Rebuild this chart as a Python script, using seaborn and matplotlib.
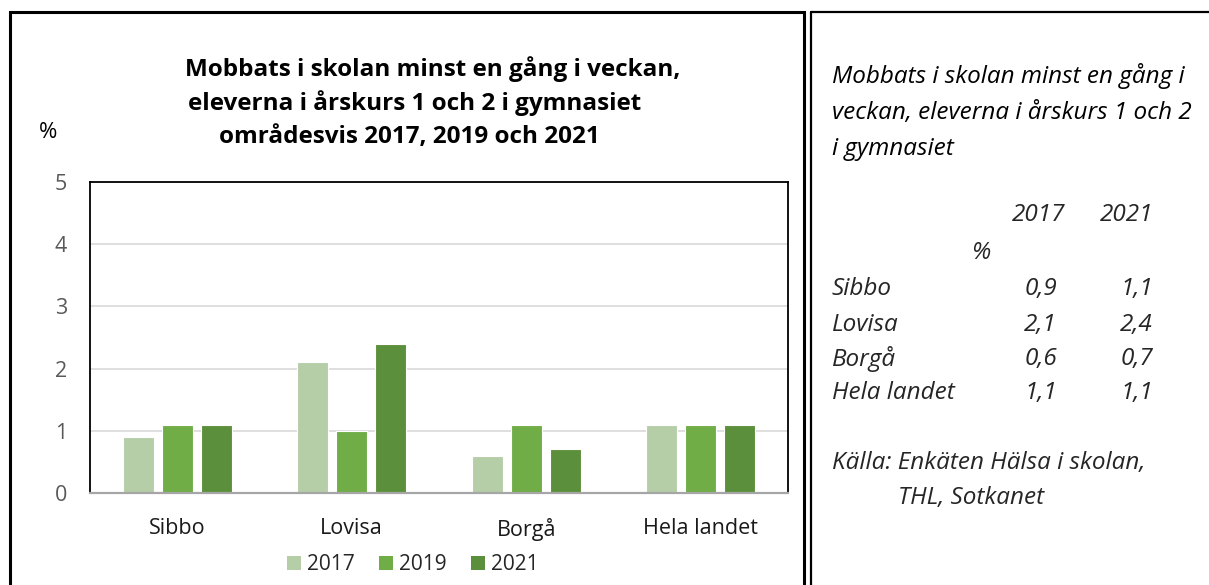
import matplotlib
matplotlib.use("Agg")
import matplotlib.pyplot as plt
from matplotlib.patches import Rectangle, Patch
from matplotlib.lines import Line2D
import seaborn as sns
import pandas as pd

# Data
areas = ["Sibbo", "Lovisa", "Borgå", "Hela landet"]
years = ["2017", "2019", "2021"]
vals_2017 = [0.9, 2.1, 0.6, 1.1]
vals_2019 = [1.1, 1.0, 1.1, 1.1]
vals_2021 = [1.1, 2.4, 0.7, 1.1]
yticks = [0, 1, 2, 3, 4, 5]
colors = ["#B5CEA8", "#70AD47", "#5B8F3B"]

title_lines = ["Mobbats i skolan minst en gång i veckan,",
               "eleverna i årskurs 1 och 2 i gymnasiet",
               "områdesvis 2017, 2019 och 2021"]
side_title = ["Mobbats i skolan minst en gång i",
              "veckan, eleverna i årskurs 1 och 2",
              "i gymnasiet"]
table_cols = ["2017", "2021"]
source = ["Källa: Enkäten Hälsa i skolan,", "THL, Sotkanet"]

df = pd.DataFrame({
    "area": areas * 3,
    "year": [y for y in years for _ in areas],
    "value": vals_2017 + vals_2019 + vals_2021,
})

sns.set_theme(style="white")
plt.rcParams["font.family"] = ["Open Sans", "DejaVu Sans"]

W, H = 1209, 585
fig = plt.figure(figsize=(W / 100, H / 100), dpi=100)

def fx(px):
    return px / W

def fy(py):
    return 1 - py / H

# Panel borders
fig.add_artist(Rectangle((fx(10), fy(600)), fx(794), (600 - 12) / H,
                         fill=False, edgecolor="black", linewidth=2.2,
                         transform=fig.transFigure))
fig.add_artist(Line2D([fx(811), fx(811)], [fy(12), fy(600)], color="black",
                      linewidth=1.6, transform=fig.transFigure))
fig.add_artist(Line2D([fx(811), fx(1212)], [fy(12), fy(12)], color="black",
                      linewidth=1.6, transform=fig.transFigure))

# Chart axes
ax = fig.add_axes([fx(90), fy(493), fx(788 - 90), (493 - 182) / H])
sns.barplot(data=df, x="area", y="value", hue="year", order=areas,
            hue_order=years, palette=colors, saturation=1, width=0.67,
            gap=0.2, edgecolor="white", linewidth=0.8, ax=ax, legend=False)

ax.set_ylim(0, 5)
ax.set_yticks(yticks)
ax.set_yticklabels([str(t) for t in yticks], fontsize=15.5, color="#595959")
ax.tick_params(axis="y", length=0, pad=16.5)
ax.tick_params(axis="x", length=0, pad=18, labelsize=15.5, labelcolor="#1a1a1a")
ax.set_xlabel("")
ax.set_ylabel("")
ax.yaxis.grid(True, color="#d9d9d9", linewidth=1.2)
ax.set_axisbelow(True)
for side in ["left", "top", "right"]:
    ax.spines[side].set_visible(True)
    ax.spines[side].set_color("black")
    ax.spines[side].set_linewidth(1.3)
ax.spines["bottom"].set_color("#a6a6a6")
ax.spines["bottom"].set_linewidth(1.6)

title_cx = [433, 415, 409]
for i, (line, cx) in enumerate(zip(title_lines, title_cx)):
    fig.text(fx(cx), fy(69 + i * 34), line, ha="center", va="center",
             fontsize=17.5, fontweight="bold", color="black")
fig.text(fx(48), fy(132), "%", ha="center", va="center", fontsize=16,
         color="black")

handles = [Patch(facecolor=c, edgecolor="none") for c in colors]
fig.legend(handles, years, loc="center", bbox_to_anchor=(fx(413), fy(565)),
           ncol=3, frameon=False, fontsize=15, handlelength=0.67,
           handleheight=0.67, handletextpad=0.3, columnspacing=1.15)

# Side text panel
tx = fx(832)
fs = 17.5
for i, line in enumerate(side_title):
    fig.text(tx, fy(76 + i * 36.5), line, ha="left", va="center",
             fontsize=fs, style="italic", color="black")

col_x = [fx(1065), fx(1153)]
for cx, c in zip(col_x, table_cols):
    fig.text(cx, fy(215), c, ha="right", va="center", fontsize=fs,
             style="italic")
fig.text(fx(981), fy(253), "%", ha="center", va="center", fontsize=fs,
         style="italic")

row_y = [289, 325, 359, 393]
fmt = lambda v: f"{v:.1f}".replace(".", ",")
for area, v17, v21, ry in zip(areas, vals_2017, vals_2021, row_y):
    fig.text(tx, fy(ry), area, ha="left", va="center", fontsize=fs,
             style="italic")
    fig.text(col_x[0] - fx(8), fy(ry), fmt(v17), ha="right", va="center",
             fontsize=fs, style="italic")
    fig.text(col_x[1], fy(ry), fmt(v21), ha="right", va="center",
             fontsize=fs, style="italic")

fig.text(tx, fy(463), source[0], ha="left", va="center", fontsize=fs,
         style="italic")
fig.text(fx(898), fy(498), source[1], ha="left", va="center", fontsize=fs,
         style="italic")

fig.savefig("out.png", dpi=100, facecolor="white")
